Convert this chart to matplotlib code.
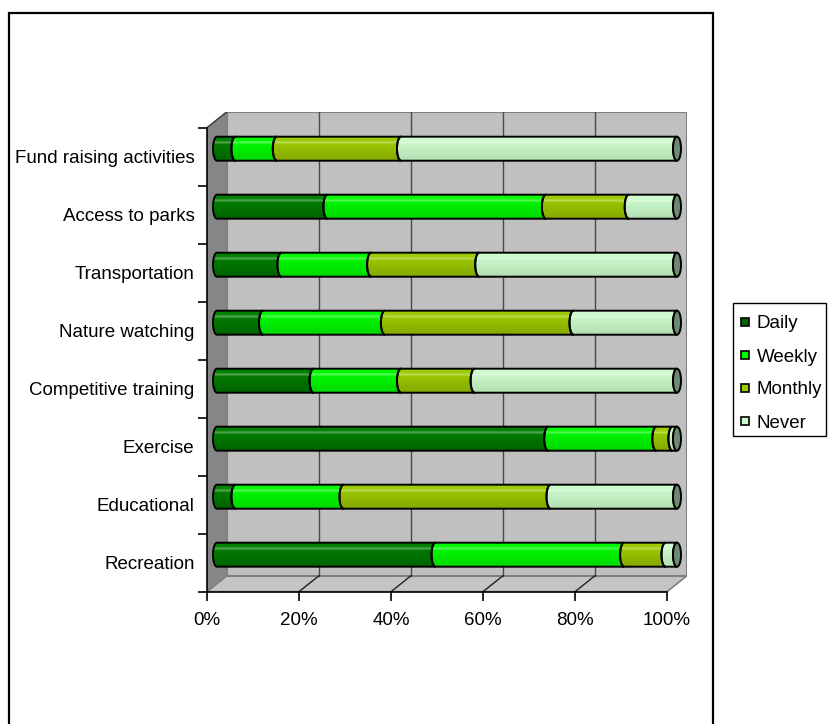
import numpy as np
import matplotlib
matplotlib.use("Agg")
import matplotlib.pyplot as plt
from matplotlib.patches import Polygon, PathPatch, Ellipse, Rectangle
from matplotlib.path import Path

plt.rcParams["font.family"] = ["Liberation Sans", "DejaVu Sans"]

# Survey categories (bottom to top) and share of respondents per frequency (%)
categories = ["Recreation", "Educational", "Exercise", "Competitive training",
              "Nature watching", "Transportation", "Access to parks",
              "Fund raising activities"]
daily = [47.5, 4, 72, 21, 10, 14, 24, 4]
weekly = [41, 23.5, 23.5, 19, 26.5, 19.5, 47.5, 9]
monthly = [9, 45, 3.5, 16, 41, 23.5, 18, 27]
never = [2.5, 27.5, 1, 44, 22.5, 43, 10.5, 60]
series_names = ["Daily", "Weekly", "Monthly", "Never"]
x_ticks = [0, 20, 40, 60, 80, 100]
x_tick_labels = ["0%", "20%", "40%", "60%", "80%", "100%"]

# shading: (top colour, bottom colour) for each series, plus legend swatch
shades = {
    "Daily": ("#008400", "#006200"),
    "Weekly": ("#00ff00", "#00d800"),
    "Monthly": ("#9fd000", "#86a800"),
    "Never": ("#d0ffd0", "#b2dfb2"),
}
swatch = {"Daily": "#006600", "Weekly": "#00ff00",
          "Monthly": "#99cc00", "Never": "#ccffcc"}

FS = 13.5
W, H = 836, 724
fig = plt.figure(figsize=(W / 100, H / 100), dpi=100)


def fx(p):
    return p / W


def fy(p):
    return 1 - p / H


# outer chart frame (open at the bottom)
fig.patches.append(Rectangle((fx(9), -0.05), fx(713 - 9), 1.05 - 13 / H,
                             transform=fig.transFigure, fill=False,
                             edgecolor="black", linewidth=1.6))

ax = fig.add_axes([fx(207), fy(591.7), fx(480), 480 / H])

n = len(categories)
px_x = 480 / 104.34           # pixels per percent
px_y = 58.0                   # pixels per category
dx = 20 / px_x                # depth offset in data units
dy = 16 / px_y
y0, y1 = -0.5, n - 0.5

# side wall, floor and back wall
ax.add_patch(Polygon([(0, y0), (dx, y0 + dy), (dx, y1 + dy), (0, y1)],
                     closed=True, facecolor="#868686", edgecolor="#808080",
                     linewidth=1, zorder=1))
ax.add_patch(Polygon([(0, y0), (100, y0), (100 + dx, y0 + dy), (dx, y0 + dy)],
                     closed=True, facecolor="#c4c4c4", edgecolor="#808080",
                     linewidth=1.2, zorder=1))
ax.add_patch(Rectangle((dx, y0 + dy), 100, y1 - y0, facecolor="#c0c0c0",
                       edgecolor="#808080", linewidth=1.5, zorder=1))
ax.plot([0, dx], [y1, y1 + dy], color="#404040", linewidth=1, zorder=2)
for xv in x_ticks[1:-1]:
    ax.plot([xv + dx, xv + dx], [y0 + dy, y1 + dy], color="#4a4a4a",
            linewidth=1, zorder=2)
    ax.plot([xv, xv + dx], [y0, y0 + dy], color="#202020", linewidth=1, zorder=2)

# cylinder bars
sx = dx / 2
hh = 12 / px_y
a = 4 / px_x
t = np.linspace(0, np.pi, 30)


def segment_path(xa, xb, yc):
    left = np.column_stack([xa - a * np.sin(t), yc + hh * np.cos(t)])
    right = np.column_stack([xb - a * np.sin(t), yc - hh * np.cos(t)])
    verts = np.vstack([left, right, left[:1]])
    return Path(verts, closed=True)


def gradient(top, bottom, rows=48):
    c0 = np.array(matplotlib.colors.to_rgb(top))
    c1 = np.array(matplotlib.colors.to_rgb(bottom))
    f = np.linspace(0, 1, rows)[:, None]
    g = c0 * (1 - f) + c1 * f
    # soft highlight streak across the upper part of the cylinder
    streak = np.exp(-((f - 0.22) / 0.05) ** 2) * 0.35
    g = g * (1 - streak) + streak
    return g[:, None, :]


values = [daily, weekly, monthly, never]
for i in range(n):
    yc = i + dy / 2
    start = 0.0
    for name, vals in zip(series_names, values):
        v = vals[i]
        xa, xb = start + sx, start + v + sx
        path = segment_path(xa, xb, yc)
        outline = PathPatch(path, facecolor="none", edgecolor="black",
                            linewidth=1.4, zorder=4)
        ax.add_patch(outline)
        img = ax.imshow(gradient(*shades[name]),
                        extent=[xa - a, xb, yc - hh, yc + hh],
                        aspect="auto", origin="upper", zorder=3,
                        interpolation="bilinear")
        img.set_clip_path(outline)
        start += v
    ax.add_patch(Ellipse((start + sx, yc), 2 * a, 2 * hh, facecolor="#6e8a6e",
                         edgecolor="black", linewidth=1.4, zorder=5))

ax.set_xlim(0, 100 + dx)
ax.set_ylim(y0, y1 + dy)
ax.set_aspect("auto")

# axes: front floor edge and left wall edge
for side in ("top", "right"):
    ax.spines[side].set_visible(False)
ax.spines["bottom"].set_bounds(0, 100)
ax.spines["left"].set_bounds(y0, y1)
for side in ("bottom", "left"):
    ax.spines[side].set_linewidth(1.2)
    ax.spines[side].set_zorder(6)

ax.set_xticks(x_ticks)
ax.set_xticklabels(x_tick_labels)
ax.tick_params(axis="x", length=6.5, width=1.2, pad=8, labelsize=FS,
               direction="out")
ax.set_yticks(np.arange(y0, y1 + 0.01, 1.0))
ax.set_yticklabels([])
ax.tick_params(axis="y", which="major", length=6.5, width=1.2, direction="out")
ax.set_yticks(np.arange(n), minor=True)
ax.set_yticklabels(categories, minor=True)
ax.tick_params(axis="y", which="minor", length=0, pad=9, labelsize=FS)

# legend box with square swatches
fig.patches.append(Rectangle((fx(733), fy(436)), fx(826 - 733), (436 - 303) / H,
                             transform=fig.transFigure, facecolor="white",
                             edgecolor="black", linewidth=1.0))
for k, s in enumerate(series_names):
    ry = 322 + 33 * k
    fig.patches.append(Rectangle((fx(740.5), fy(ry + 4)), fx(8), 8 / H,
                                 transform=fig.transFigure,
                                 facecolor=swatch[s], edgecolor="black",
                                 linewidth=1.2))
    fig.text(fx(757), fy(ry), s, fontsize=FS, ha="left", va="center_baseline")

fig.savefig("out.png", dpi=100)
